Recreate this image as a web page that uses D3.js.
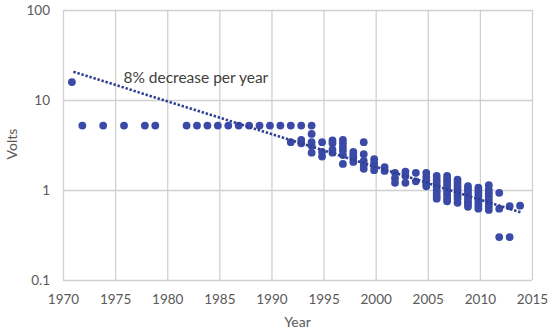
<!DOCTYPE html>
<html>
<head>
<meta charset="utf-8">
<script src="https://cdn.jsdelivr.net/npm/d3@7"></script>
<style>
  body { margin: 0; background: #fff; }
  .grid line { stroke: #d0d0d0; stroke-width: 1.3; }
  .grid path { display: none; }
  .axis text { font-family: Lato, "Open Sans", sans-serif; font-size: 13.5px; fill: #595959; }
  .axis path, .axis line { display: none; }
  .title { font-family: Lato, "Open Sans", sans-serif; font-size: 14px; fill: #595959; }
  .note { font-family: Lato, "Open Sans", sans-serif; font-size: 15.5px; fill: #404040; }
</style>
</head>
<body>
<div id="chart"></div>
<script>
// measured points: years[i] pairs with volts[i]
var years = [
  1971, 1972, 1974, 1976, 1978, 1979,
  1982, 1983, 1984, 1985, 1986, 1987, 1988, 1989, 1990, 1991,
  1992, 1992,
  1993, 1993, 1993,
  1994, 1994, 1994, 1994, 1994,
  1995, 1995, 1995,
  1996, 1996, 1996, 1996,
  1997, 1997, 1997, 1997, 1997, 1997,
  1998, 1998, 1998, 1998,
  1999, 1999, 1999, 1999, 1999,
  2000, 2000, 2000, 2000,
  2001, 2001,
  2002, 2002, 2002,
  2003, 2003, 2003,
  2004, 2004,
  2005, 2005, 2005, 2005, 2005,
  2006, 2006, 2006, 2006, 2006, 2006, 2006, 2006,
  2007, 2007, 2007, 2007, 2007, 2007, 2007, 2007, 2007,
  2008, 2008, 2008, 2008, 2008, 2008, 2008, 2008,
  2009, 2009, 2009, 2009, 2009, 2009, 2009, 2009,
  2010, 2010, 2010, 2010, 2010, 2010, 2010, 2010,
  2011, 2011, 2011, 2011, 2011, 2011, 2011, 2011,
  2012, 2012, 2012,
  2013, 2013,
  2014
];
var volts = [
  15.8, 5.2, 5.2, 5.2, 5.2, 5.2,
  5.2, 5.2, 5.2, 5.2, 5.2, 5.2, 5.2, 5.2, 5.2, 5.2,
  5.2, 3.4,
  5.2, 3.6, 3.3,
  5.2, 4.2, 3.4, 3.1, 2.6,
  3.4, 2.65, 2.35,
  3.55, 3.3, 2.8, 2.6,
  3.6, 3.3, 3.0, 2.75, 2.45, 1.95,
  2.65, 2.45, 2.3, 2.05,
  3.4, 2.5, 2.1, 1.9, 1.72,
  2.2, 2.0, 1.82, 1.66,
  1.8, 1.63,
  1.55, 1.35, 1.2,
  1.6, 1.43, 1.2,
  1.55, 1.25,
  1.55, 1.4, 1.28, 1.18, 1.1,
  1.43, 1.3, 1.2, 1.1, 1.0, 0.93, 0.86, 0.8,
  1.43, 1.32, 1.22, 1.12, 1.03, 0.95, 0.88, 0.81, 0.75,
  1.3, 1.2, 1.1, 1.02, 0.94, 0.87, 0.8, 0.72,
  1.1, 1.02, 0.95, 0.88, 0.81, 0.75, 0.7, 0.65,
  1.06, 0.98, 0.91, 0.84, 0.78, 0.72, 0.67, 0.62,
  1.13, 1.0, 0.92, 0.85, 0.78, 0.72, 0.66, 0.6,
  0.93, 0.62, 0.3,
  0.66, 0.3,
  0.67
];

// dotted trend line endpoints (8% decrease per year)
var trendYears = [1971, 2014];
var trendVolts = [20.6, 0.56];

var xTicks = [1970, 1975, 1980, 1985, 1990, 1995, 2000, 2005, 2010, 2015];
var yTicks = [0.1, 1, 10, 100];
var yTickLabels = ["0.1", "1", "10", "100"];

var margin = {top: 10, right: 18, bottom: 53, left: 63},
    width = 550 - (margin.left + margin.right),
    height = 333 - (margin.top + margin.bottom);

var x = d3.scaleLinear().domain([1970, 2015]).range([0, width]);
var y = d3.scaleLog().domain([0.1, 100]).range([height, 0]);

var svg = d3.select("#chart")
  .append("svg")
  .attr("width", 550)
  .attr("height", 333)
  .append("g")
  .attr("transform", "translate(" + margin.left + "," + margin.top + ")");

// gridlines
svg.append("g")
  .attr("class", "grid")
  .attr("transform", "translate(0," + height + ")")
  .call(d3.axisBottom(x).tickValues(xTicks).tickSize(-height).tickFormat(""));

svg.append("g")
  .attr("class", "grid")
  .call(d3.axisLeft(y).tickValues(yTicks).tickSize(-width).tickFormat(""));

// tick labels
svg.append("g")
  .attr("class", "axis")
  .attr("transform", "translate(0," + height + ")")
  .call(d3.axisBottom(x).tickValues(xTicks).tickSize(0).tickPadding(14).tickFormat(d3.format("d")));

svg.append("g")
  .attr("class", "axis")
  .call(d3.axisLeft(y).tickValues(yTicks).tickSize(0).tickPadding(13)
    .tickFormat(function(d, i) { return yTickLabels[i]; }));

// points
var pts = years.map(function(yr, i) { return {year: yr, v: volts[i]}; });

svg.append("g")
  .selectAll("circle")
  .data(pts)
  .enter().append("circle")
  .attr("cx", function(d) { return x(d.year) - 1.5; })
  .attr("cy", function(d) { return y(d.v); })
  .attr("r", 3.9)
  .attr("fill", "#3a4aa6");

// trend
var trend = trendYears.map(function(yr, i) { return {year: yr, v: trendVolts[i]}; });

svg.append("path")
  .datum(trend)
  .attr("fill", "none")
  .attr("stroke", "#2f3f92")
  .attr("stroke-width", 2.6)
  .attr("stroke-dasharray", "2.4,1.8")
  .attr("d", d3.line()
    .x(function(d) { return x(d.year); })
    .y(function(d) { return y(d.v); }));

svg.append("text")
  .attr("class", "note")
  .attr("x", x(1975.8))
  .attr("y", y(20.6) + 11)
  .text("8% decrease per year");

// axis titles
svg.append("text")
  .attr("class", "title")
  .attr("text-anchor", "middle")
  .attr("x", width / 2)
  .attr("y", height + 47)
  .text("Year");

svg.append("text")
  .attr("class", "title")
  .attr("text-anchor", "middle")
  .attr("transform", "translate(" + (-margin.left + 17) + "," + (height / 2 - 1) + ") rotate(-90)")
  .text("Volts");
</script>
</body>
</html>
